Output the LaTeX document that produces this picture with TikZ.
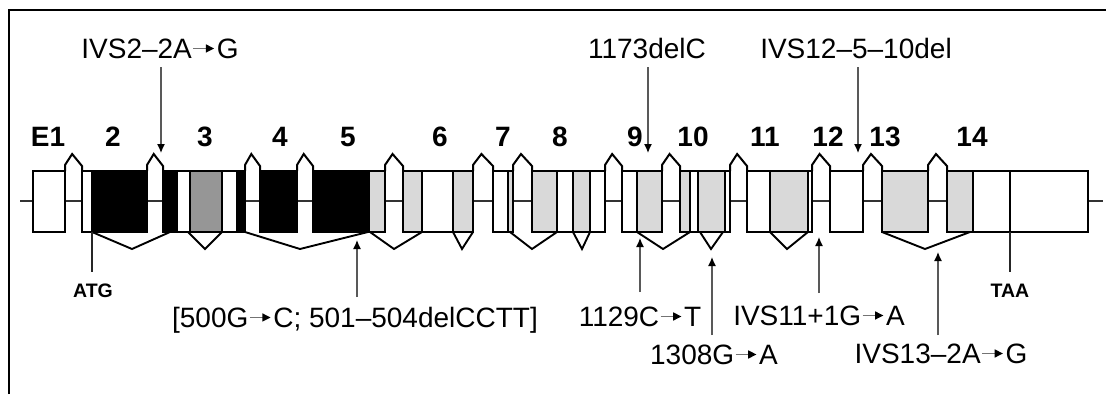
\documentclass[tikz,border=0pt]{standalone}
\usepackage{fontspec}
\setmainfont{Liberation Sans}
\usetikzlibrary{arrows.meta}
\definecolor{lgray}{HTML}{D9D9D9}
\definecolor{dgray}{HTML}{969696}
\newcommand\ra{\kern0.05em\tikz[baseline=0pt]{\useasboundingbox (0,0) rectangle (0.76em,0.1em);
  \draw[line width=0.05em, black!55] (0,0.34em)--(0.48em,0.34em);
  \fill[black] (0.45em,0.49em)--(0.74em,0.34em)--(0.45em,0.19em)--cycle;}\kern0.08em}
\begin{document}
\begin{tikzpicture}[x=1pt,y=-1pt,
  seg/.style={draw=black, line width=2pt},
  hood/.style={draw=black, line width=2pt, line join=miter},
  intron/.style={draw=black!80, line width=1.5pt},
  splice/.style={draw=black, line width=1.9pt},
  exlab/.style={font=\fontsize{28}{30}\selectfont\bfseries, anchor=base, inner sep=0},
  mutlab/.style={font=\fontsize{28}{31}\selectfont, anchor=base, inner sep=0},
  codon/.style={font=\fontsize{19.5}{21}\selectfont\bfseries, anchor=base, inner sep=0},
  mut/.style={draw=black!65, line width=1.3pt, -{Latex[length=9pt,width=8pt,color=black]}},
  tick/.style={draw=black!85, line width=1.4pt}]
\useasboundingbox (0,0) rectangle (1106,394);
% frame
\draw[line width=2pt] (9,394) -- (9,10) -- (1106,10);
% intron axis
\coordinate (axL) at (20,201);
\coordinate (axR) at (1103,201);
\draw[intron] (axL) -- (axR);
% intron hoods
\foreach \l/\r in {65/82, 147/163, 245/260, 297/313, 385/403, 473/493, 513/532, 605/622, 662/680, 730/747, 812/830, 863/882, 928/947}
  \draw[hood] (\l,171) -- (\l,165) -- ({\l+0.42*(\r-\l)},154) -- (\r,166) -- (\r,171);
% exon segments
\foreach \a/\b/\c in {33/65/white,
  82/92/white, 92/147/black,
  163/177/black, 177/190/white, 190/222/dgray, 222/237/white, 237/245/black,
  260/297/black,
  313/369/black, 369/385/lgray,
  403/422/lgray, 422/453/white, 453/473/lgray,
  493/508/white, 508/513/lgray,
  532/557/lgray, 557/573/white, 573/590/lgray, 590/605/white,
  622/637/white, 637/662/lgray,
  680/690/lgray, 690/698/white, 698/725/lgray, 725/730/white,
  747/770/white, 770/808/lgray, 808/812/white,
  830/863/white,
  882/928/lgray,
  947/973/lgray, 973/1010/white, 1010/1088/white}
  \draw[seg, fill=\c] (\a,171) rectangle (\b,232);
% splicing lines
\foreach \a/\m/\b in {92/132/170, 188/205/222, 245/300/368, 370/394/422, 453/462/473, 510/532/557, 573/582/590, 637/663/690, 700/711/723, 770/787/808, 882/925/970}
  \draw[splice] (\a,232) -- (\m,249) -- (\b,232);
% exon labels
\foreach \x/\t [count=\i] in {48/E1, 113/2, 205/3, 280/4, 348/5, 440/6, 503/7, 560/8, 635/9, 693/10, 765/11, 828/12, 885/13, 972/14}
  \node[exlab] (ex\i) at (\x,146) {\t};
% start / stop codons
\coordinate (atgT) at (92,232);
\coordinate (atgB) at (92,272);
\draw[tick] (atgT) -- (atgB);
\node[codon] (atg) at (93,297) {ATG};
\coordinate (taaT) at (1010,232);
\coordinate (taaB) at (1010,272);
\draw[tick] (taaT) -- (taaB);
\node[codon] (taa) at (1010,297) {TAA};
% mutations above
\node[mutlab] (m1) at (160,58) {IVS2--2A\ra G};
\coordinate (m1s) at (161,67); \coordinate (m1e) at (161,153);
\draw[mut] (m1s) -- (m1e);
\node[mutlab] (m2) at (647,58) {1173delC};
\coordinate (m2s) at (648,67); \coordinate (m2e) at (648,153);
\draw[mut] (m2s) -- (m2e);
\node[mutlab] (m3) at (856,58) {IVS12--5--10del};
\coordinate (m3s) at (858,67); \coordinate (m3e) at (858,153);
\draw[mut] (m3s) -- (m3e);
% mutations below
\node[mutlab] (m4) at (355,327) {[500G\ra C; 501--504delCCTT]};
\coordinate (m4s) at (357,297); \coordinate (m4e) at (357,240);
\draw[mut] (m4s) -- (m4e);
\node[mutlab] (m5) at (640,326) {1129C\ra T};
\coordinate (m5s) at (640,292); \coordinate (m5e) at (640,238);
\draw[mut] (m5s) -- (m5e);
\node[mutlab] (m6) at (714,364) {1308G\ra A};
\coordinate (m6s) at (712,335); \coordinate (m6e) at (712,257);
\draw[mut] (m6s) -- (m6e);
\node[mutlab] (m7) at (819,325) {IVS11+1G\ra A};
\coordinate (m7s) at (819,293); \coordinate (m7e) at (819,237);
\draw[mut] (m7s) -- (m7e);
\node[mutlab] (m8) at (941,363) {IVS13--2A\ra G};
\coordinate (m8s) at (938,335); \coordinate (m8e) at (938,252);
\draw[mut] (m8s) -- (m8e);
\end{tikzpicture}
\end{document}
